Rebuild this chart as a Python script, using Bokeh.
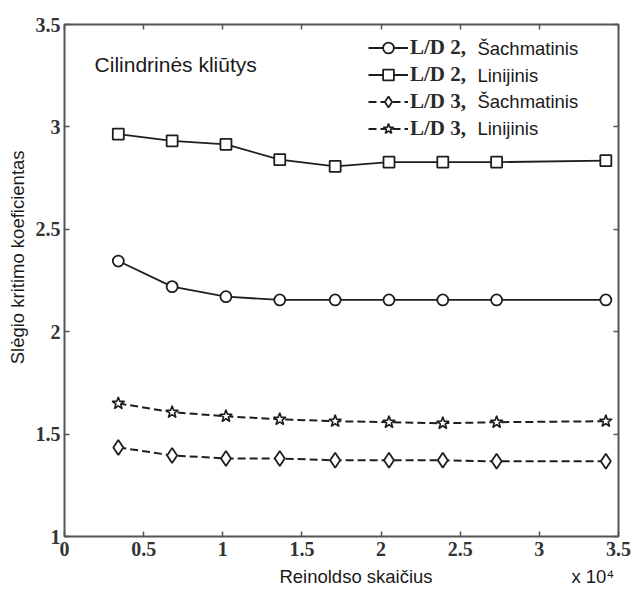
from bokeh.plotting import figure
from bokeh.models import Legend, LegendItem, Label, LinearAxis, FixedTicker, Range1d
from bokeh.embed import file_html
from bokeh.resources import INLINE

# Reynolds number (x 10^4)
re_x = [0.34, 0.68, 1.02, 1.36, 1.71, 2.05, 2.39, 2.73, 3.42]
ld2_stag = [2.345, 2.22, 2.171, 2.155, 2.155, 2.155, 2.155, 2.155, 2.155]
ld2_line = [2.965, 2.932, 2.915, 2.84, 2.807, 2.828, 2.828, 2.828, 2.835]
ld3_stag = [1.435, 1.396, 1.381, 1.381, 1.372, 1.372, 1.372, 1.367, 1.367]
ld3_line = [1.65, 1.607, 1.587, 1.572, 1.563, 1.558, 1.553, 1.558, 1.563]

x_ticks = [0, 0.5, 1, 1.5, 2, 2.5, 3, 3.5]
x_tick_labels = ["0", "0.5", "1", "1.5", "2", "2.5", "3", "3.5"]
y_ticks = [1, 1.5, 2, 2.5, 3, 3.5]
y_tick_labels = ["1", "1.5", "2", "2.5", "3", "3.5"]

legend_prefix = ["L/D 2,", "L/D 2,", "L/D 3,", "L/D 3,"]
legend_suffix = ["Šachmatinis", "Linijinis", "Šachmatinis", "Linijinis"]

title_text = "Cilindrinės kliūtys"
x_title = "Reinoldso skaičius"
x_multiplier = "x 10⁴"
y_title = "Slėgio kritimo koeficientas"

SERIF = "Liberation Serif"
SANS = "Liberation Sans"
INK = "#1e1e1e"
FRAME = "#555555"
NB = "\u00a0"

p = figure(width=633, height=591, output_backend="svg", toolbar_location=None,
           x_range=Range1d(0, 3.5), y_range=Range1d(1, 3.5),
           min_border_left=64, min_border_right=15, min_border_top=24, min_border_bottom=55,
           background_fill_color="white", border_fill_color="white")
p.xgrid.visible = False
p.ygrid.visible = False
p.outline_line_color = FRAME
p.outline_line_width = 2

xo = {float(t): l for t, l in zip(x_ticks, x_tick_labels)}
yo = {float(t): l for t, l in zip(y_ticks, y_tick_labels)}
xo_blank = {float(t): "" for t in x_ticks}
yo_blank = {float(t): "" for t in y_ticks}

def style_axis(ax, ticks, overrides, standoff):
    ax.ticker = FixedTicker(ticks=ticks)
    ax.major_label_overrides = overrides
    ax.major_tick_in = 5
    ax.major_tick_out = 0
    ax.minor_tick_line_color = None
    ax.major_tick_line_color = FRAME
    ax.major_tick_line_width = 1.5
    ax.axis_line_color = None
    ax.major_label_text_font = SERIF
    ax.major_label_text_font_size = "20px"
    ax.major_label_text_font_style = "bold"
    ax.major_label_text_color = "#333333"
    ax.major_label_standoff = standoff
    ax.axis_label_text_font = SANS
    ax.axis_label_text_font_size = "18.5px"
    ax.axis_label_text_font_style = "normal"
    ax.axis_label_text_color = "#1a1a1a"

style_axis(p.xaxis[0], x_ticks, xo, 5)
style_axis(p.yaxis[0], y_ticks, yo, 4)
# x title and the x10^4 multiplier share the line below the axis
p.xaxis[0].axis_label = NB * 41 + x_title + NB * 27 + x_multiplier
p.xaxis[0].axis_label_standoff = 7
p.yaxis[0].axis_label = NB * 9 + y_title
p.yaxis[0].axis_label_standoff = 5

top_ax = LinearAxis()
right_ax = LinearAxis()
style_axis(top_ax, x_ticks, xo_blank, 0)
style_axis(right_ax, y_ticks, yo_blank, 0)
p.add_layout(top_ax, "above")
p.add_layout(right_ax, "right")

lw = 1.8
r1l = p.line(re_x, ld2_stag, line_color=INK, line_width=lw)
r1s = p.scatter(re_x, ld2_stag, marker="circle", size=11, fill_color="white", line_color=INK, line_width=1.8)
r2l = p.line(re_x, ld2_line, line_color=INK, line_width=lw)
r2s = p.scatter(re_x, ld2_line, marker="square", size=11, fill_color="white", line_color=INK, line_width=1.8)
r3l = p.line(re_x, ld3_stag, line_color=INK, line_width=2, line_dash="8 4")
r3s = p.scatter(re_x, ld3_stag, marker="diamond", size=15, fill_color="white", line_color=INK, line_width=1.8)
r4l = p.line(re_x, ld3_line, line_color=INK, line_width=2, line_dash="8 4")
r4s = p.scatter(re_x, ld3_line, marker="star", size=13, fill_color="white", line_color=INK, line_width=1.6)

items = [LegendItem(label=legend_prefix[i], renderers=rs)
         for i, rs in enumerate([[r1l, r1s], [r2l, r2s], [r3l, r3s], [r4l, r4s]])]
legend = Legend(items=items, location=(304, 394), padding=0, margin=0,
                spacing=0, glyph_width=40, glyph_height=27, label_height=27,
                label_standoff=2, label_text_font=SERIF, label_text_font_size="21px",
                label_text_font_style="bold",
                label_text_color="#2a2a2a", border_line_color=None,
                background_fill_alpha=0)
p.add_layout(legend, "center")

# legend second words
leg_y = [3.383, 3.251, 3.124, 2.992]
for yy, s in zip(leg_y, legend_suffix):
    p.add_layout(Label(x=2.609, y=yy, text=s, text_font=SANS, text_font_size="18.5px",
                       text_baseline="middle", text_color="#1a1a1a"))

p.add_layout(Label(x=0.19, y=3.305, text=title_text, text_font=SANS, text_font_size="21px",
                   text_baseline="middle", text_color="#1a1a1a"))

open("out.html", "w").write(file_html(p, INLINE))
